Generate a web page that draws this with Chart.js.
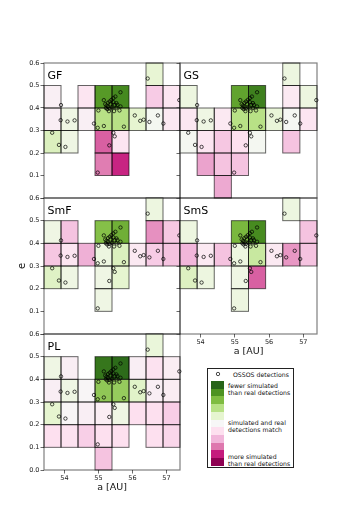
<!DOCTYPE html>
<html>
<head>
<meta charset="utf-8">
<script src="https://cdn.jsdelivr.net/npm/chart.js@4.4.1/dist/chart.umd.min.js"></script>
<style>
  body { margin: 0; background: #fff; }
  #wrap { position: relative; width: 352px; height: 528px; overflow: hidden; font-family: 'DejaVu Sans', sans-serif; }
  canvas { position: absolute; }
  #legend { position: absolute; left: 207px; top: 368px; width: 85px; height: 98px; border: 1px solid #222; background: #fff; }
  .lt { position: absolute; left: 20px; font-size: 6.2px; line-height: 7px; color: #111; white-space: nowrap; }
  .sw { position: absolute; left: 3px; width: 13px; }
</style>
</head>
<body>
<div id="wrap">
  <canvas id="cGF"></canvas>
  <canvas id="cSmF"></canvas>
  <canvas id="cPL"></canvas>
  <canvas id="cGS"></canvas>
  <canvas id="cSmS"></canvas>
  <div id="legend"></div>
</div>
<script>
'use strict';

// bin edges and ticks
const aEdges = [53.4, 53.9, 54.4, 54.9, 55.4, 55.9, 56.4, 56.9, 57.4];
const eEdges = [0, 0.1, 0.2, 0.3, 0.4, 0.5, 0.6];
const xTicks = [54, 55, 56, 57];
const yTicks = [0, 0.1, 0.2, 0.3, 0.4, 0.5, 0.6];

// OSSOS detections (same in every panel)
const ossosA = [
  56.45, 57.38, 53.90, 53.89, 54.09, 54.30, 53.64, 53.84, 54.03,
  54.87, 54.98, 55.16, 55.00, 55.31, 55.46, 55.62,
  55.44, 55.48, 55.32, 55.75, 54.98,
  56.07, 56.23, 56.33, 56.50, 56.75, 56.91,
  55.16, 55.20, 55.24, 55.28, 55.33, 55.38, 55.44, 55.50, 55.65,
  55.44, 55.48, 55.56, 55.53, 55.28, 55.22, 55.32, 55.40, 55.36, 55.26, 55.65, 55.53
];
const ossosE = [
  0.531, 0.435, 0.413, 0.346, 0.340, 0.345, 0.290, 0.236, 0.227,
  0.331, 0.312, 0.320, 0.389, 0.386, 0.386, 0.389,
  0.290, 0.274, 0.234, 0.317, 0.113,
  0.367, 0.343, 0.348, 0.338, 0.367, 0.331,
  0.435, 0.417, 0.411, 0.423, 0.429, 0.436, 0.444, 0.451, 0.470,
  0.426, 0.414, 0.414, 0.400, 0.405, 0.400, 0.398, 0.402, 0.417, 0.395, 0.407, 0.422
];

// cell levels: + = fewer simulated than real (green), - = more simulated (pink)
// rows go from e 0.5-0.6 (top) down to e 0.0-0.1, columns follow aEdges
const n = null;
const gfCells = [
  [n, n, n, n, n, n, 0.9, n],
  [-0.35, n, -0.8, 3.8, 4.2, n, -1.5, -0.8],
  [-0.4, 0.5, -0.35, 2.0, 2.0, 1.0, 0.15, -0.6],
  [1.25, 0.5, n, -3.25, -0.8, n, n, n],
  [n, n, n, -2.9, -3.9, n, n, n],
  [n, n, n, n, n, n, n, n]
];
const gsCells = [
  [n, n, n, n, n, n, 0.6, n],
  [0.6, n, n, 3.6, 4.4, n, -0.6, 0.6],
  [-0.7, 0.5, -0.6, 2.0, 2.0, 0.8, 0.1, -0.8],
  [0.15, -0.8, -1.6, -1.0, 0.15, n, -1.7, n],
  [n, -2.3, -1.7, -1.7, n, n, n, n],
  [n, n, -2.2, n, n, n, n, n]
];
const smfCells = [
  [n, n, n, n, n, n, 0.6, n],
  [0.5, -1.7, n, 2.9, 3.3, n, -2.6, -1.6],
  [-1.6, -0.8, -2.1, 0.6, 1.25, -0.6, -1.5, -1.7],
  [1.15, 0.5, n, 0.5, 1.0, n, n, n],
  [n, n, n, 0.5, n, n, n, n],
  [n, n, n, n, n, n, n, n]
];
const smsCells = [
  [n, n, n, n, n, n, 0.6, n],
  [0.6, n, n, 3.1, 4.15, n, n, -1.7],
  [-2.0, -0.6, -1.7, 0.6, 1.65, -0.6, -2.5, -1.7],
  [1.2, 0.6, n, 0.5, -3.25, n, n, n],
  [n, n, n, 0.6, n, n, n, n],
  [n, n, n, n, n, n, n, n]
];
const plCells = [
  [n, n, n, n, n, n, 0.75, n],
  [0.5, -0.4, n, 4.6, 4.85, -0.4, -0.9, -0.45],
  [-0.4, 0.5, -0.1, 2.7, 2.6, 1.1, -0.4, -0.45],
  [1.0, -0.1, -0.4, -0.45, 0.5, -1.0, -1.0, -1.45],
  [-1.0, -0.9, -1.4, -1.0, -1.0, n, -1.0, -1.25],
  [n, n, n, -1.7, n, n, n, n]
];

// PiYG, 11 classes, from -5 (pink) to +5 (green)
const piyg = ['#8e0152', '#c51b7d', '#de77ae', '#f1b6da', '#fde0ef', '#f7f7f7',
              '#e6f5d0', '#b8e186', '#7fbc41', '#4d9221', '#276419'];

const legendTexts = [
  ['fewer simulated', 'than real detections'],
  ['simulated and real', 'detections match'],
  ['more simulated', 'than real detections']
];

const FONT = 'DejaVu Sans';

function hexRgb(h) {
  return [1, 3, 5].map(i => parseInt(h.slice(i, i + 2), 16));
}

function levelColor(v) {
  const t = Math.max(-5, Math.min(5, v)) + 5;
  const i = Math.min(9, Math.floor(t));
  const f = t - i;
  const c0 = hexRgb(piyg[i]), c1 = hexRgb(piyg[i + 1]);
  const c = c0.map((x, k) => Math.round(x + (c1[k] - x) * f));
  return `rgb(${c[0]},${c[1]},${c[2]})`;
}

const panels = [
  { id: 'cGF', name: 'GF', cells: gfCells, left: 44, top: 63, w: 136, h: 135, side: 'left', showX: false, hideZero: true },
  { id: 'cSmF', name: 'SmF', cells: smfCells, left: 44, top: 198, w: 136, h: 136, side: 'left', showX: false, hideZero: true, yTitle: true },
  { id: 'cPL', name: 'PL', cells: plCells, left: 44, top: 334, w: 136, h: 136, side: 'left', showX: true, hideZero: false },
  { id: 'cGS', name: 'GS', cells: gsCells, left: 180, top: 63, w: 137, h: 135, side: 'right', showX: false },
  { id: 'cSmS', name: 'SmS', cells: smsCells, left: 180, top: 198, w: 137, h: 136, side: 'right', showX: true }
];

function makePanelPlugin(p) {
  return {
    id: 'panel_' + p.name,
    beforeDatasetsDraw(chart) {
      const { ctx, chartArea, scales: { x, y } } = chart;
      const rects = [];
      p.cells.forEach((row, r) => {
        const eTop = eEdges[eEdges.length - 1 - r];
        const eBot = eEdges[eEdges.length - 2 - r];
        row.forEach((v, c) => {
          if (v === null) return;
          const x0 = x.getPixelForValue(aEdges[c]);
          const x1 = x.getPixelForValue(aEdges[c + 1]);
          const y0 = y.getPixelForValue(eTop);
          const y1 = y.getPixelForValue(eBot);
          rects.push([x0, y0, x1 - x0, y1 - y0, v]);
        });
      });
      ctx.save();
      rects.forEach(rc => {
        ctx.fillStyle = levelColor(rc[4]);
        ctx.fillRect(rc[0], rc[1], rc[2], rc[3]);
      });
      ctx.lineWidth = 1;
      ctx.strokeStyle = 'rgba(0,0,0,0.6)';
      rects.forEach(rc => ctx.strokeRect(rc[0], rc[1], rc[2], rc[3]));
      // frame (all four spines)
      ctx.strokeStyle = 'rgba(0,0,0,0.5)';
      ctx.lineWidth = 1.2;
      ctx.strokeRect(chartArea.left, chartArea.top, chartArea.right - chartArea.left, chartArea.bottom - chartArea.top);
      ctx.restore();
    },
    afterDraw(chart) {
      const { ctx, chartArea } = chart;
      ctx.save();
      ctx.fillStyle = '#000';
      ctx.font = `11px "${FONT}"`;
      ctx.textBaseline = 'alphabetic';
      ctx.fillText(p.name, chartArea.left + 3.5, chartArea.top + 16);
      ctx.restore();
    }
  };
}

const points = ossosA.map((a, i) => ({ x: a, y: ossosE[i] }));

panels.forEach(p => {
  const yW = p.side === 'left' ? 30 : 5;
  const xH = p.showX ? 27 : 0;
  const padTop = 6, padRight = 6, padBottom = p.showX ? 0 : 6;
  const canvas = document.getElementById(p.id);
  const cw = yW + p.w + padRight;
  const ch = padTop + p.h + xH + padBottom;
  canvas.width = cw;
  canvas.height = ch;
  canvas.style.width = cw + 'px';
  canvas.style.height = ch + 'px';
  canvas.style.left = (p.left - yW) + 'px';
  canvas.style.top = (p.top - padTop) + 'px';

  new Chart(canvas.getContext('2d'), {
    type: 'scatter',
    data: {
      datasets: [{
        data: points,
        pointStyle: 'circle',
        pointRadius: 1.7,
        pointHoverRadius: 1.7,
        borderWidth: 0.7,
        borderColor: '#000',
        backgroundColor: 'rgba(0,0,0,0)',
        clip: 3
      }]
    },
    options: {
      responsive: false,
      animation: false,
      events: [],
      layout: { padding: { top: padTop, right: padRight, bottom: padBottom, left: 0 } },
      plugins: { legend: { display: false }, tooltip: { enabled: false } },
      scales: {
        x: {
          type: 'linear',
          min: 53.4,
          max: 57.4,
          display: p.showX,
          afterBuildTicks: ax => { ax.ticks = xTicks.map(v => ({ value: v })); },
          afterFit: ax => { ax.height = xH; },
          border: { display: false },
          grid: { drawOnChartArea: false, drawTicks: true, tickLength: 3.5, color: '#444', lineWidth: 0.8 },
          ticks: {
            autoSkip: false, maxRotation: 0, padding: 1, color: '#222',
            font: { family: FONT, size: 6.5 },
            callback: v => String(v)
          },
          title: {
            display: true, text: 'a [AU]', color: '#111',
            font: { family: FONT, size: 9.5 },
            padding: { top: 0, bottom: 4 }
          }
        },
        y: {
          type: 'linear',
          min: 0,
          max: 0.6,
          afterBuildTicks: ax => { ax.ticks = yTicks.map(v => ({ value: v })); },
          afterFit: ax => { ax.width = yW; },
          border: { display: false },
          grid: { drawOnChartArea: false, drawTicks: true, tickLength: 3.5, color: '#444', lineWidth: 0.8 },
          ticks: {
            autoSkip: false, padding: 1, color: '#222',
            font: { family: FONT, size: 6.5 },
            callback: v => {
              if (p.side === 'right') return '';
              if (p.hideZero && v === 0) return '';
              return v.toFixed(1);
            }
          },
          title: {
            display: !!p.yTitle, text: 'e', color: '#111',
            font: { family: FONT, size: 10 },
            padding: { top: 2, bottom: 0 }
          }
        }
      }
    },
    plugins: [makePanelPlugin(p)]
  });
});

// legend box
const legend = document.getElementById('legend');
let html = '';
html += '<svg style="position:absolute;left:7px;top:2px" width="6" height="6"><circle cx="3" cy="3" r="1.7" fill="none" stroke="#000" stroke-width="0.7"/></svg>';
html += '<div class="lt" style="top:1.5px;left:25px">OSSOS detections</div>';
const swTop = 12, swH = 7.7;
piyg.slice().reverse().forEach((col, i) => {
  html += `<div class="sw" style="top:${swTop + i * swH}px;height:${swH + 0.3}px;background:${col}"></div>`;
});
const textTops = [12.5, 49.5, 84.2];
legendTexts.forEach((lines, k) => {
  lines.forEach((t, j) => {
    html += `<div class="lt" style="top:${textTops[k] + j * 7.2}px">${t}</div>`;
  });
});
legend.innerHTML = html;
</script>
</body>
</html>
